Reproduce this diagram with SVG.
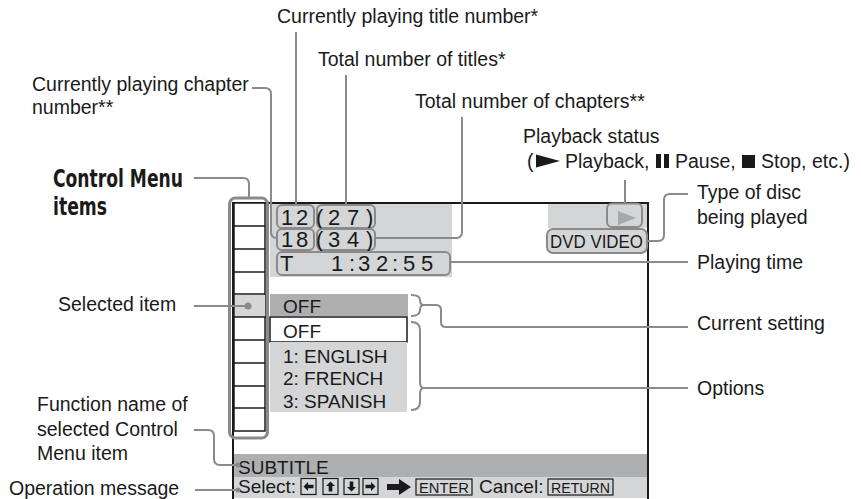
<svg xmlns="http://www.w3.org/2000/svg" width="861" height="499" viewBox="0 0 861 499">
<style>
.lbl{font-family:"Liberation Sans",Arial,sans-serif;font-size:19.5px;fill:#1a1a1a}
.bold{font-family:"Liberation Sans Narrow","DejaVu Sans Condensed","Liberation Sans",sans-serif;font-weight:bold;font-size:24px;fill:#1a1a1a}
.scr{font-family:"Liberation Sans",Arial,sans-serif;font-size:19px;fill:#1a1a1a}
.num{font-family:"Liberation Sans",Arial,sans-serif;font-size:22px;fill:#1a1a1a}
.key{font-family:"Liberation Sans",Arial,sans-serif;font-size:15px;fill:#1a1a1a}
.con{fill:none;stroke:#8a8a8a;stroke-width:2}
.gbox{fill:#d4d5d7;stroke:#8a8a8a;stroke-width:2}
.kbox{fill:none;stroke:#1a1a1a;stroke-width:1.2}
.light{fill:#d4d5d7}
.dark{fill:#aeafb1}
</style>
<defs>
<path id="ka" d="M-5,-1.8 H0.5 V-4.5 L5,0 L0.5,4.5 V1.8 H-5 Z" fill="#1a1a1a"/>
</defs>

<g id="screen">
<rect class="light" x="270" y="204" width="182" height="73"/>
<rect class="light" x="548" y="204" width="99" height="24"/>
<rect class="dark" x="234" y="454" width="414" height="23"/>
<rect class="light" x="234" y="477" width="414" height="21"/>
<path d="M233,499 V203 H648 V499" fill="none" stroke="#1a1a1a" stroke-width="2"/>
</g>

<g id="menu-items">
<rect x="234" y="203" width="31" height="228" fill="#fff" stroke="#1a1a1a" stroke-width="1.5"/>
<rect x="235" y="295" width="30" height="22" fill="#d6d6d6"/>
<path d="M234,226H265M234,249H265M234,272H265M234,294H265M234,317H267M234,340H265M234,363H265M234,386H265M234,408H265" stroke="#1a1a1a" stroke-width="1.5"/>
<circle cx="248" cy="306" r="3.5" fill="#8a8a8a"/>
<rect x="229.5" y="198" width="38" height="240" rx="6" fill="none" stroke="#8a8a8a" stroke-width="3"/>
</g>

<g id="title-number">
<rect class="gbox" x="277" y="205" width="37" height="23" rx="5"/>
<text class="num" x="281 296" y="225">12</text>
</g>
<g id="total-titles">
<rect class="gbox" x="317" y="205" width="58" height="23" rx="5"/>
<text class="num" x="316 328 347 366" y="225">(27)</text>
</g>
<g id="chapter-number">
<rect class="gbox" x="277" y="229" width="37" height="21" rx="5"/>
<text class="num" x="281 296" y="247">18</text>
</g>
<g id="total-chapters">
<rect class="gbox" x="317" y="229" width="58" height="21" rx="5"/>
<text class="num" x="316 328 347 366" y="247">(34)</text>
</g>
<g id="playing-time">
<rect class="gbox" x="277" y="252" width="173" height="23" rx="5"/>
<text class="num" x="280 331 349 358 376 392 403 421" y="271">T1:32:55</text>
</g>
<g id="playback-status">
<rect class="gbox" x="607" y="203.5" width="35" height="23.5" rx="5"/>
<polygon points="618,211 636,218 618,225" fill="#a8a8a8"/>
</g>
<g id="disc-type">
<rect class="gbox" x="547" y="229" width="100" height="24" rx="6"/>
<text class="scr" x="550" y="248" font-size="21" textLength="93" lengthAdjust="spacingAndGlyphs">DVD VIDEO</text>
</g>

<g id="current-setting">
<rect class="dark" x="270" y="294" width="138" height="22"/>
<text class="scr" x="283" y="313">OFF</text>
</g>
<g id="options">
<rect x="270" y="317" width="137" height="25" fill="#fff" stroke="#1a1a1a" stroke-width="1.5"/>
<text class="scr" x="283" y="338">OFF</text>
<rect class="light" x="270" y="342" width="137" height="70"/>
<text class="scr" x="283" y="363">1: ENGLISH</text>
<text class="scr" x="283" y="385">2: FRENCH</text>
<text class="scr" x="283" y="408">3: SPANISH</text>
</g>

<g id="function-name">
<text class="scr" x="238" y="474">SUBTITLE</text>
</g>
<g id="operation-message">
<text class="scr" x="238" y="493">Select:</text>
<rect class="kbox" x="301" y="478.5" width="15" height="16"/>
<use href="#ka" transform="translate(308.5,486.5) rotate(180)"/>
<rect class="kbox" x="323" y="478.5" width="15" height="16"/>
<use href="#ka" transform="translate(330.5,486.5) rotate(-90)"/>
<rect class="kbox" x="344" y="478.5" width="15" height="16"/>
<use href="#ka" transform="translate(351.5,486.5) rotate(90)"/>
<rect class="kbox" x="363" y="478.5" width="15" height="16"/>
<use href="#ka" transform="translate(370.5,486.5)"/>
<path d="M387,484 H399 V479 L411,487 L399,495 V490 H387 Z" fill="#1a1a1a"/>
<rect class="kbox" x="416" y="479" width="56" height="16"/>
<text class="key" x="419" y="493" textLength="50" lengthAdjust="spacingAndGlyphs">ENTER</text>
<text class="scr" x="479" y="493">Cancel:</text>
<rect class="kbox" x="548" y="479" width="65" height="16"/>
<text class="key" x="551" y="493" textLength="59" lengthAdjust="spacingAndGlyphs">RETURN</text>
</g>

<g id="connectors">
<path class="con" d="M194,178 H243 q6,0 6,6 V198"/>
<path class="con" d="M252,88 H265 q6,0 6,6 V232 q0,6 6,6"/>
<path class="con" d="M296,32 V205"/>
<path class="con" d="M346,75 V205"/>
<path class="con" d="M462,117 V232 q0,6 -6,6 H375"/>
<path class="con" d="M625,180 V203"/>
<path class="con" d="M647,241 H658 q6,0 6,-6 V200 q0,-6 6,-6 H688"/>
<path class="con" d="M450,262 H688"/>
<path class="con" d="M411,295 q9,0 9,5 q0,5 4,5 q-4,0 -4,5 q0,6 -9,6"/>
<path class="con" d="M424,305 H436 q5,0 5,5 V322 q0,5 5,5 H688"/>
<path class="con" d="M411,322 q9,0 9,8 V382 q0,6 4,6 q-4,0 -4,6 V402 q0,8 -9,8"/>
<path class="con" d="M424,388 H688"/>
<path class="con" d="M194,306 H248"/>
<path class="con" d="M194,430 H208 q6,0 6,6 V459 q0,6 6,6 H238"/>
<path class="con" d="M195,490 H238"/>
<circle cx="238" cy="465" r="2.5" fill="#8a8a8a"/>
<circle cx="238" cy="490" r="2.5" fill="#8a8a8a"/>
</g>

<g id="labels">
<text class="lbl" x="277" y="23">Currently playing title number*</text>
<text class="lbl" x="318" y="66">Total number of titles*</text>
<text class="lbl" x="32" y="91">Currently playing chapter</text>
<text class="lbl" x="32" y="114">number**</text>
<text class="lbl" x="415" y="108">Total number of chapters**</text>
<text class="lbl" x="523" y="143">Playback status</text>
<text class="lbl" x="527" y="168">(</text>
<polygon points="536,154.5 560,161 536,167.5" fill="#1a1a1a"/>
<text class="lbl" x="565" y="168">Playback,</text>
<rect x="656" y="154" width="5" height="14" fill="#1a1a1a"/>
<rect x="664" y="154" width="5" height="14" fill="#1a1a1a"/>
<text class="lbl" x="675" y="168">Pause,</text>
<rect x="742" y="155" width="13" height="13" fill="#1a1a1a"/>
<text class="lbl" x="761" y="168">Stop, etc.)</text>
<text class="bold" x="53" y="187" textLength="130" lengthAdjust="spacingAndGlyphs">Control Menu</text>
<text class="bold" x="53" y="215" textLength="54" lengthAdjust="spacingAndGlyphs">items</text>
<text class="lbl" x="697" y="199">Type of disc</text>
<text class="lbl" x="697" y="224">being played</text>
<text class="lbl" x="697" y="269">Playing time</text>
<text class="lbl" x="697" y="330">Current setting</text>
<text class="lbl" x="697" y="395">Options</text>
<text class="lbl" x="58" y="311">Selected item</text>
<text class="lbl" x="37" y="411">Function name of</text>
<text class="lbl" x="37" y="436">selected Control</text>
<text class="lbl" x="37" y="460">Menu item</text>
<text class="lbl" x="9" y="495">Operation message</text>
</g>
</svg>
